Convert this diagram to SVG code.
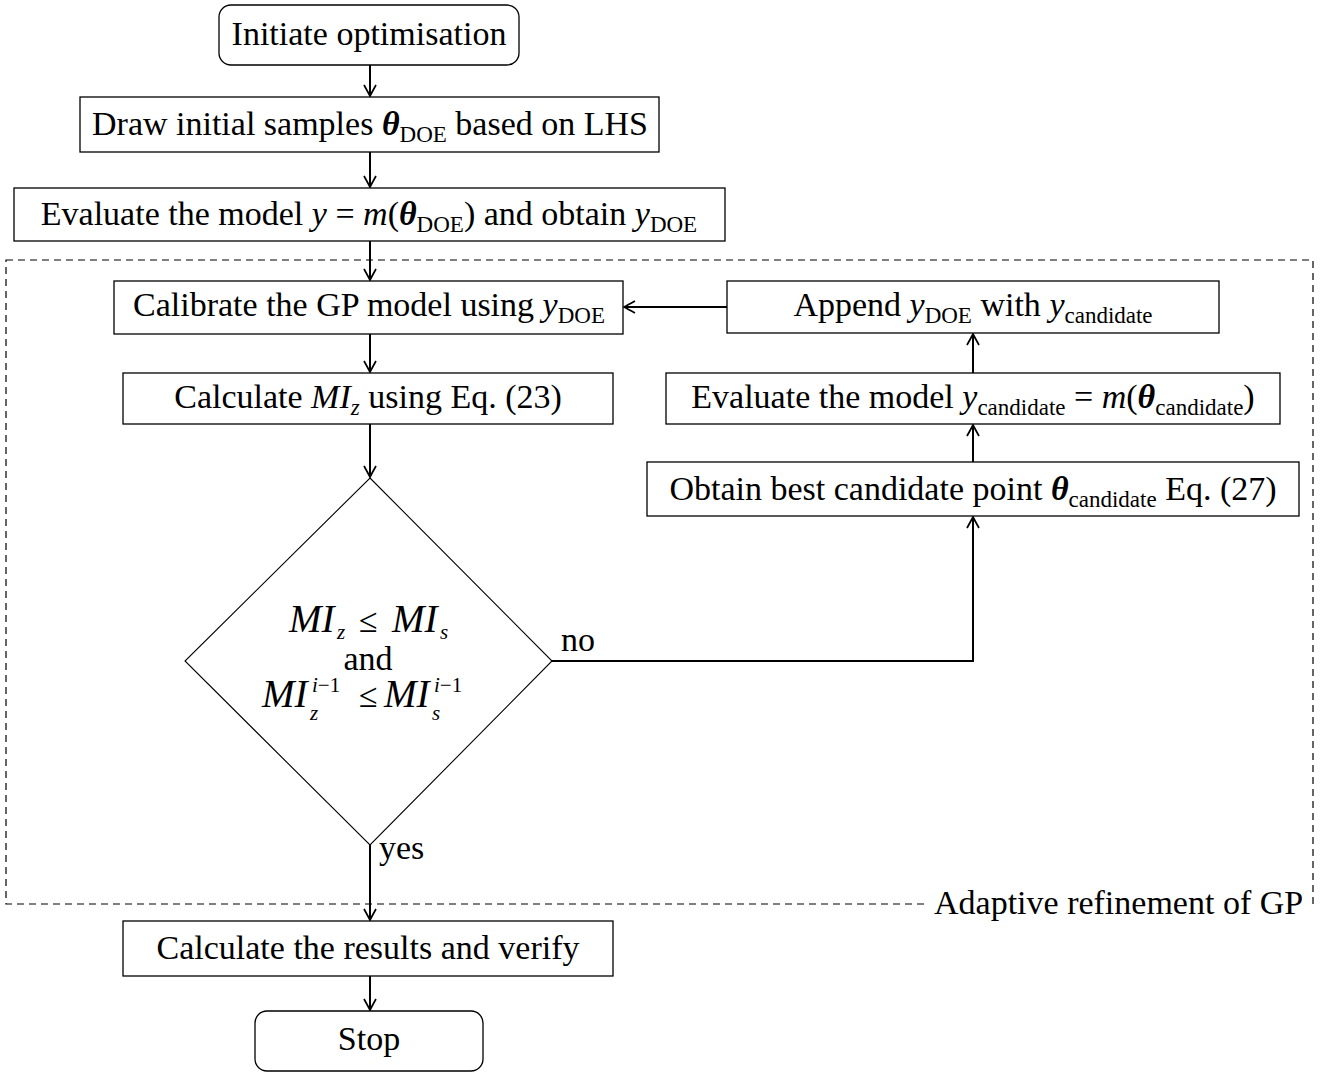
<svg xmlns="http://www.w3.org/2000/svg" width="1320" height="1072" viewBox="0 0 1320 1072">
<defs>
<marker id="arr" viewBox="-13 -8 15 16" refX="0" refY="0" markerWidth="15" markerHeight="16" markerUnits="userSpaceOnUse" orient="auto">
<path d="M-11,-6 Q-3.5,-1.8 0,0 Q-3.5,1.8 -11,6" fill="none" stroke="#000" stroke-width="1.7"/>
</marker>
<style>
.box{fill:#fff;stroke:#000;stroke-width:1.3}
.dia{fill:#fff;stroke:#000;stroke-width:1.1}
.t{font-family:"Liberation Serif","DejaVu Serif",serif;font-size:34px;fill:#000}
.m{font-style:italic}
.mi{font-style:italic;font-size:39px}
.b{font-weight:bold;font-style:italic}
.s{font-size:23px}
.ss{font-size:21px}
.c{text-anchor:middle}
.con{fill:none;stroke:#000;stroke-width:2}
.dash{fill:none;stroke:#000;stroke-width:1.2;stroke-dasharray:7,5}
</style>
</defs>
<rect width="1320" height="1072" fill="#fff"/>

<g id="group-adaptive">
<rect class="dash" x="6" y="260" width="1307" height="644"/>
<rect x="925" y="888" width="383" height="32" fill="#fff"/>
<text class="t" x="934" y="914">Adaptive refinement of GP</text>
</g>

<g id="connectors">
<line class="con" x1="370" y1="65" x2="370" y2="96" marker-end="url(#arr)"/>
<line class="con" x1="370" y1="152" x2="370" y2="187" marker-end="url(#arr)"/>
<line class="con" x1="370" y1="241" x2="370" y2="280" marker-end="url(#arr)"/>
<line class="con" x1="370" y1="334" x2="370" y2="372" marker-end="url(#arr)"/>
<line class="con" x1="370" y1="424" x2="370" y2="477" marker-end="url(#arr)"/>
<polyline class="con" points="552,661 973,661 973,517" marker-end="url(#arr)"/>
<line class="con" x1="973" y1="462" x2="973" y2="425" marker-end="url(#arr)"/>
<line class="con" x1="973" y1="373" x2="973" y2="334" marker-end="url(#arr)"/>
<line class="con" x1="727" y1="307" x2="624" y2="307" marker-end="url(#arr)"/>
<line class="con" x1="370" y1="845" x2="370" y2="920" marker-end="url(#arr)"/>
<line class="con" x1="370" y1="976" x2="370" y2="1010" marker-end="url(#arr)"/>
<text class="t" x="561" y="651">no</text>
<text class="t" x="379" y="859">yes</text>
</g>

<g id="node-initiate">
<rect class="box" x="219" y="5" width="300" height="60" rx="12"/>
<text class="t c" x="369" y="45">Initiate optimisation</text>
</g>

<g id="node-draw">
<rect class="box" x="80" y="97" width="579" height="55"/>
<text class="t c" x="370" y="135">Draw initial samples <tspan class="b">θ</tspan><tspan class="s" dy="7">DOE</tspan><tspan dy="-7"> based on LHS</tspan></text>
</g>

<g id="node-evaluate">
<rect class="box" x="14" y="188" width="711" height="53"/>
<text class="t c" x="369" y="225">Evaluate the model <tspan class="m">y</tspan> = <tspan class="m">m</tspan>(<tspan class="b">θ</tspan><tspan class="s" dy="7">DOE</tspan><tspan dy="-7">) and obtain </tspan><tspan class="m">y</tspan><tspan class="s" dy="7">DOE</tspan></text>
</g>

<g id="node-calibrate">
<rect class="box" x="114" y="281" width="509" height="53"/>
<text class="t c" x="369" y="316">Calibrate the GP model using <tspan class="m">y</tspan><tspan class="s" dy="7">DOE</tspan></text>
</g>

<g id="node-calcmi">
<rect class="box" x="123" y="373" width="490" height="51"/>
<text class="t c" x="368" y="408">Calculate <tspan class="m">MI</tspan><tspan class="s m" dy="7">z</tspan><tspan dy="-7"> using Eq. (23)</tspan></text>
</g>

<g id="node-decision">
<polygon class="dia" points="370,478 552,661 370,845 185,661"/>
<text class="t mi" x="289" y="632">MI</text>
<text class="t ss m" x="337" y="639">z</text>
<text class="t" x="359" y="632">≤</text>
<text class="t mi" x="392" y="632">MI</text>
<text class="t ss m" x="440" y="639">s</text>
<text class="t c" x="368" y="670">and</text>
<text class="t mi" x="262" y="707">MI</text>
<text class="t ss" x="312" y="692"><tspan class="m">i</tspan>−1</text>
<text class="t ss m" x="310" y="720">z</text>
<text class="t" x="359" y="707">≤</text>
<text class="t mi" x="384" y="707">MI</text>
<text class="t ss" x="434" y="692"><tspan class="m">i</tspan>−1</text>
<text class="t ss m" x="432" y="720">s</text>
</g>

<g id="node-append">
<rect class="box" x="727" y="281" width="492" height="52"/>
<text class="t c" x="973" y="316">Append <tspan class="m">y</tspan><tspan class="s" dy="7">DOE</tspan><tspan dy="-7"> with </tspan><tspan class="m">y</tspan><tspan class="s" dy="7">candidate</tspan></text>
</g>

<g id="node-evalcand">
<rect class="box" x="666" y="373" width="614" height="51"/>
<text class="t c" x="973" y="408">Evaluate the model <tspan class="m">y</tspan><tspan class="s" dy="7">candidate</tspan><tspan dy="-7"> = </tspan><tspan class="m">m</tspan>(<tspan class="b">θ</tspan><tspan class="s" dy="7">candidate</tspan><tspan dy="-7">)</tspan></text>
</g>

<g id="node-obtain">
<rect class="box" x="647" y="462" width="652" height="54"/>
<text class="t c" x="973" y="500">Obtain best candidate point <tspan class="b">θ</tspan><tspan class="s" dy="7">candidate</tspan><tspan dy="-7"> Eq. (27)</tspan></text>
</g>

<g id="node-results">
<rect class="box" x="123" y="921" width="490" height="55"/>
<text class="t c" x="368" y="959">Calculate the results and verify</text>
</g>

<g id="node-stop">
<rect class="box" x="255" y="1011" width="228" height="60" rx="12"/>
<text class="t c" x="369" y="1050">Stop</text>
</g>
</svg>
